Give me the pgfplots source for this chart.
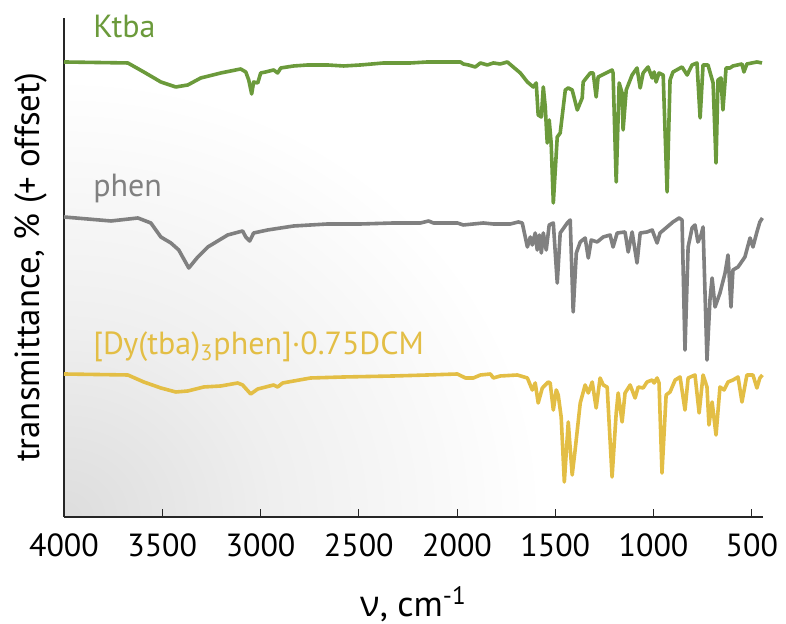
\documentclass[border=0pt]{standalone}
\usepackage{fontspec}
\setmainfont{PT Sans}
\newfontfamily\gfont{Open Sans}
\usepackage{pgfplots}
\pgfplotsset{compat=1.18}
\definecolor{cgreen}{HTML}{6B9A3B}
\definecolor{cgray}{HTML}{808080}
\definecolor{cyellow}{HTML}{E3BE45}
\definecolor{bgg}{HTML}{DDDDDD}
\definecolor{bgm}{HTML}{EFEFEF}
\pgfdeclareradialshading{cornershade}{\pgfpoint{0bp}{0bp}}{color(0bp)=(bgg); color(11bp)=(bgm); color(25bp)=(white); color(50bp)=(white)}
\begin{document}
\begin{tikzpicture}
\begin{scope}
\clip (0,0) rectangle (349.5pt,249.5pt);
\shade[shading=cornershade] (0,0) ellipse [x radius=240pt, y radius=220pt];
\end{scope}
\begin{axis}[
  width=349.5pt, height=249.5pt, scale only axis,
  xmin=443, xmax=4000, x dir=reverse, ymin=0, ymax=499,
  axis x line*=bottom, axis y line*=left,
  axis line style={line width=0.6pt, black!85},
  ytick=\empty, xtick={500,1000,...,4000},
  tick align=inside, major tick length=4pt,
  xtick style={line width=0.5pt, black!85},
  /pgf/number format/1000 sep={},
  /pgf/number format/assume math mode=true,
  x tick label style={font=\fontsize{16}{16}\selectfont, yshift=-5pt},
  xlabel={{\gfont ν}, cm\textsuperscript{-1}},
  x label style={at={(axis description cs:0.5,0)}, anchor=center, yshift=-43.5pt, font=\fontsize{18}{18}\selectfont},
  ylabel={transmittance, \% (+ offset)},
  y label style={at={(axis description cs:-0.0472,0.5)}, anchor=center, font=\fontsize{17.4}{17.4}\selectfont},
  clip=false,
]
% Ktba
\addplot[cgreen, line width=1.8pt, line join=round] table {
4000 455
3675 454
3594 445
3507 435
3431 430
3370 432
3304 439
3202 444
3101 448
3075 445
3060 437
3045 423
3035 435
3014 434
2999 444
2974 445
2933 447
2913 444
2897 449
2831 451
2760 452
2659 452
2577 451
2491 452
2374 454
2237 454
2151 455
1983 455
1968 453
1942 452
1907 450
1881 454
1846 452
1815 454
1780 453
1744 455
1678 444
1642 435
1612 430
1597 434
1587 402
1571 400
1561 430
1551 410
1541 374
1531 397
1521 374
1510 314
1490 380
1475 384
1449 427
1434 429
1414 427
1388 407
1363 419
1358 435
1322 444
1307 444
1292 420
1282 440
1211 447
1206 444
1190 335
1175 434
1160 424
1155 387
1139 427
1109 442
1084 449
1068 429
1053 444
1028 450
1007 439
997 445
987 435
972 444
951 442
931 325
916 437
901 445
855 450
829 442
804 452
779 454
763 399
748 452
723 452
697 434
682 354
672 437
657 439
647 407
631 449
611 449
596 451
550 453
540 445
525 453
474 455
448 454
};
% phen
\addplot[cgray, line width=1.8pt, line join=round] table {
4000 300
3761 296
3624 299
3558 294
3507 280
3456 274
3416 267
3365 249
3319 260
3268 270
3167 282
3091 286
3075 280
3055 276
3035 284
2964 287
2831 291
2659 293
2491 293
2323 294
2186 294
2145 296
2120 294
1998 294
1968 292
1866 294
1815 293
1729 293
1688 295
1668 294
1642 270
1627 280
1617 272
1602 284
1592 267
1581 282
1571 264
1561 284
1546 267
1531 292
1510 294
1490 234
1475 284
1439 294
1424 297
1409 205
1393 264
1373 275
1348 279
1332 259
1317 277
1287 275
1256 280
1221 282
1206 270
1185 284
1145 285
1129 265
1109 285
1084 254
1068 284
1033 285
1007 287
982 274
967 284
931 290
901 295
870 299
855 297
840 167
824 270
804 289
789 292
774 275
758 282
748 290
728 157
713 217
702 239
687 210
662 224
636 244
621 262
606 210
596 247
570 250
535 260
509 279
494 270
474 285
459 295
446 299
};
% [Dy(tba)3phen]
\addplot[cyellow, line width=1.8pt, line join=round] table {
4000 143
3675 142
3594 135
3507 129
3431 125
3370 126
3289 130
3202 131
3116 134
3091 132
3050 123
3014 128
2933 132
2913 130
2887 134
2831 136
2745 139
2577 140
2323 141
2151 142
1998 143
1957 139
1917 139
1881 142
1830 143
1815 139
1780 141
1693 142
1642 139
1617 127
1602 134
1587 114
1566 129
1536 135
1526 134
1510 107
1495 127
1485 122
1470 100
1454 35
1434 95
1414 42
1399 67
1373 114
1348 132
1332 124
1312 135
1292 109
1272 139
1256 132
1236 130
1211 40
1190 104
1180 124
1160 95
1145 124
1119 132
1094 119
1078 130
1053 129
1033 135
1007 137
997 134
982 139
972 134
957 44
936 122
916 125
890 137
865 140
840 107
824 139
789 142
768 104
748 142
728 130
718 92
702 115
682 82
662 130
641 127
621 135
596 137
570 140
550 115
525 142
494 142
474 129
459 139
446 142
};
\node[anchor=base west, text=cgreen, font=\fontsize{16}{16}\selectfont, inner sep=0pt] at (axis cs:3853,479) {Ktba};
\node[anchor=base west, text=cgray, font=\fontsize{16}{16}\selectfont, inner sep=0pt] at (axis cs:3853,320) {phen};
\node[anchor=base west, text=cyellow, font=\fontsize{16}{16}\selectfont, inner sep=0pt] at (axis cs:3853,162) {[Dy(tba)\textsubscript{3}phen]·0.75DCM};
\end{axis}
\pgfresetboundingbox
\useasboundingbox (-32pt,-53.5pt) rectangle (361pt,258.5pt);
\end{tikzpicture}
\end{document}
